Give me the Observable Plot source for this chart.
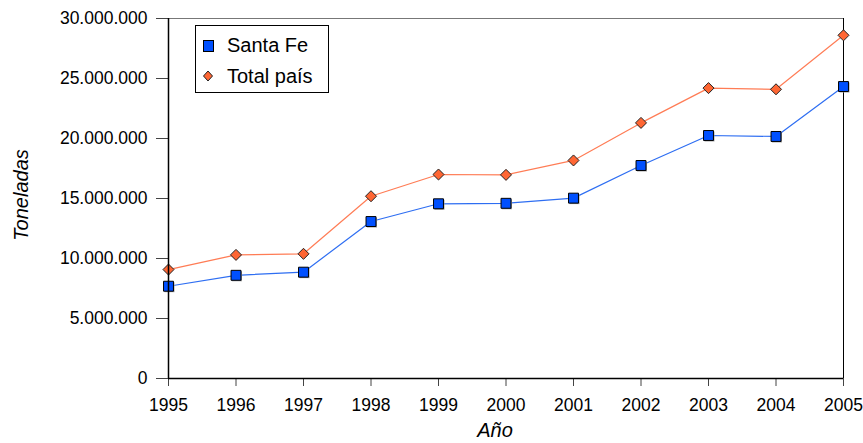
<!DOCTYPE html>
<html><head><meta charset="utf-8">
<script src="https://cdn.jsdelivr.net/npm/d3@7"></script>
<script src="https://cdn.jsdelivr.net/npm/@observablehq/plot@0.6"></script>
<style>body{margin:0;background:#fff} #chart{position:relative;width:863px;height:443px}</style>
</head><body><div id="chart"></div>
<script>
const years = [1995, 1996, 1997, 1998, 1999, 2000, 2001, 2002, 2003, 2004, 2005];
const santaFe = [7690000, 8600000, 8860000, 13080000, 14560000, 14600000, 15030000, 17750000, 20250000, 20170000, 24330000];
const totalPais = [9080000, 10300000, 10390000, 15190000, 17000000, 16970000, 18170000, 21300000, 24200000, 24100000, 28600000];
const yTicks = [0, 5000000, 10000000, 15000000, 20000000, 25000000, 30000000];
const seriesNames = ["Santa Fe", "Total país"];
const xTitle = "Año";
const yTitle = "Toneladas";

const locale = d3.formatLocale({decimal: ",", thousands: ".", grouping: [3], currency: ["", ""]});
const fmt = locale.format(",d");

const sfRows = years.map((year, i) => ({year, value: santaFe[i]}));
const tpRows = years.map((year, i) => ({year, value: totalPais[i]}));

const diamond = {
  draw(context, size) {
    const s = Math.sqrt(size / 2);
    context.moveTo(0, -s); context.lineTo(s, 0); context.lineTo(0, s); context.lineTo(-s, 0); context.closePath();
  }
};

const font = "'Liberation Sans', Arial, sans-serif";
const chart = Plot.plot({
  width: 863, height: 443,
  marginLeft: 168, marginRight: 20, marginTop: 18, marginBottom: 65,
  style: {fontFamily: font, fontSize: "17.5px", background: "#fff", overflow: "visible"},
  x: {domain: [1995, 2005], type: "linear"},
  y: {domain: [0, 30000000]},
  marks: [
    Plot.ruleY([30000000], {stroke: "#777"}),
    Plot.ruleX([2005], {stroke: "#000"}),
    Plot.line(sfRows, {x: "year", y: "value", stroke: "#2e6ef2", strokeWidth: 1.2}),
    Plot.line(tpRows, {x: "year", y: "value", stroke: "#ff7c55", strokeWidth: 1.2}),
    Plot.dot(sfRows, {x: "year", y: "value", symbol: "square", r: 5.6, fill: "#999", dx: 1, dy: 1, stroke: "none"}),
    Plot.dot(sfRows, {x: "year", y: "value", symbol: "square", r: 5.6, fill: "#0050ff", stroke: "#000", strokeWidth: 1}),
    Plot.dot(tpRows, {x: "year", y: "value", symbol: diamond, r: 4.4, fill: "#ff6633", stroke: "#222", strokeWidth: 1}),
    Plot.axisX({ticks: years, tickFormat: d => String(d), tickSize: 8, tickPadding: 12, stroke: "#444", fill: "#000", fontSize: 17.5, label: null}),
    Plot.axisY({ticks: yTicks, tickFormat: fmt, tickSize: 12, tickPadding: 9, stroke: "#444", fill: "#000", fontSize: 17.5, label: null}),
    Plot.ruleX([1995], {stroke: "#000", strokeWidth: 1.5}),
    Plot.ruleY([0], {stroke: "#000", strokeWidth: 1.5})
  ]
});
document.getElementById("chart").appendChild(chart);

const svg = d3.select(chart);
// axis titles
svg.append("text").attr("x", 495).attr("y", 437).attr("text-anchor", "middle")
  .attr("font-family", font).attr("font-size", 20).attr("font-style", "italic").attr("fill", "#000").text(xTitle);
svg.append("text").attr("transform", "translate(28,195) rotate(-90)").attr("text-anchor", "middle")
  .attr("font-family", font).attr("font-size", 20).attr("font-style", "italic").attr("fill", "#000").text(yTitle);

// legend
const lg = svg.append("g").attr("text-anchor", "start");
lg.append("rect").attr("x", 195.5).attr("y", 25.5).attr("width", 133).attr("height", 67)
  .attr("fill", "#fff").attr("stroke", "#000").attr("stroke-width", 1);
lg.append("rect").attr("x", 203.5).attr("y", 40.5).attr("width", 10).attr("height", 11)
  .attr("fill", "#0050ff").attr("stroke", "#000");
lg.append("path").attr("d", "M208,71L212.5,76L208,81L203.5,76Z")
  .attr("fill", "#ff6633").attr("stroke", "#222");
lg.append("text").attr("x", 227).attr("y", 52).attr("text-anchor", "start").attr("font-family", font).attr("font-size", 20).attr("fill", "#000").text(seriesNames[0]);
lg.append("text").attr("x", 227).attr("y", 83).attr("text-anchor", "start").attr("font-family", font).attr("font-size", 20).attr("fill", "#000").text(seriesNames[1]);
</script>
</body></html>
